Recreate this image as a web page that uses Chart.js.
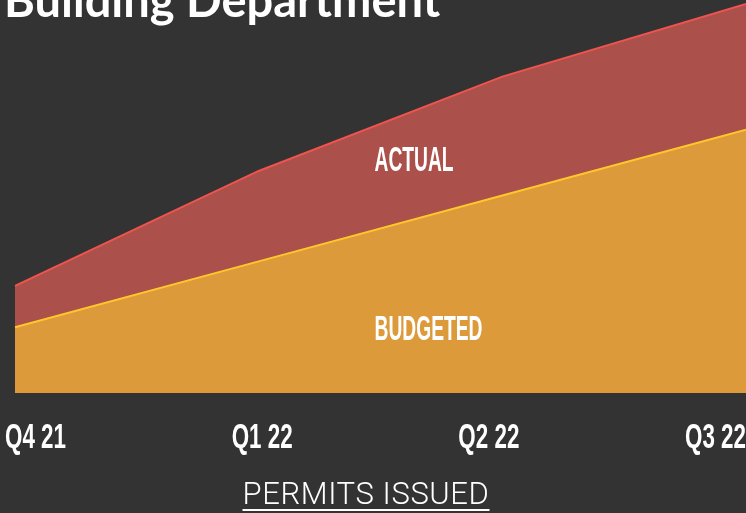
<!DOCTYPE html>
<html>
<head>
<meta charset="utf-8">
<style>
  html, body { margin: 0; padding: 0; background: #333333; }
  canvas { display: block; }
</style>
<script src="https://cdn.jsdelivr.net/npm/chart.js@4.4.1/dist/chart.umd.min.js"></script>
</head>
<body>
<canvas id="permitsChart" width="746" height="513"></canvas>
<script>
const quarters = ['Q4 21', 'Q1 22', 'Q2 22', 'Q3 22'];
const budgeted = [67, 134, 201, 268];
const actual = [109, 226, 322, 396];
const yMax = 400;

function narrowText(ctx, text, x, y, align, sx) {
  ctx.save();
  ctx.translate(x, y);
  ctx.scale(sx, 1);
  ctx.textAlign = align;
  ctx.textBaseline = 'alphabetic';
  ctx.fillText(text, 0, 0);
  ctx.restore();
}

const labelsPlugin = {
  id: 'labelsPlugin',
  afterDraw(chart) {
    const ctx = chart.ctx;
    const xScale = chart.scales.x;
    ctx.save();
    ctx.fillStyle = '#ffffff';

    // title, cut off at the top like the original
    ctx.font = 'bold 47px Lato';
    ctx.textAlign = 'left';
    ctx.textBaseline = 'alphabetic';
    ctx.fillText('Building Department', 4, 17);

    // series names inside the areas
    ctx.font = 'bold 35px "Liberation Sans"';
    const mid = (xScale.getPixelForValue(1) + xScale.getPixelForValue(2)) / 2 - 6;
    narrowText(ctx, 'ACTUAL', mid, 171, 'left', 0.55);
    narrowText(ctx, 'BUDGETED', mid, 340, 'left', 0.55);

    // quarter labels: outer ones flush with the plot edges,
    // inner ones spread evenly between the outer label centres
    const sx = 0.64;
    const n = quarters.length;
    const firstW = ctx.measureText(quarters[0]).width * sx;
    const lastW = ctx.measureText(quarters[n - 1]).width * sx;
    const firstLeft = xScale.getPixelForTick(0) - 10;
    const lastRight = xScale.getPixelForTick(n - 1);
    const c0 = firstLeft + firstW / 2;
    const c1 = lastRight - lastW / 2;
    quarters.forEach(function (q, i) {
      narrowText(ctx, q, c0 + (c1 - c0) * i / (n - 1), 448, 'center', sx);
    });

    // axis caption with underline
    ctx.font = '300 31px Roboto';
    ctx.letterSpacing = '0.6px';
    ctx.textAlign = 'center';
    const cx = 366;
    ctx.fillText('PERMITS ISSUED', cx, 504);
    const w = ctx.measureText('PERMITS ISSUED').width;
    ctx.fillRect(cx - w / 2, 509, w, 2);
    ctx.restore();
  }
};

const permitsChart = document.getElementById('permitsChart');

new Chart(permitsChart, {
  type: 'line',
  data: {
    labels: quarters,
    datasets: [
      {
        label: 'Budgeted',
        data: budgeted,
        borderColor: '#ffc72c',
        backgroundColor: '#dc9a3a',
        borderWidth: 2,
        fill: 'origin',
        pointRadius: 0,
        tension: 0
      },
      {
        label: 'Actual',
        data: actual,
        borderColor: '#f0544e',
        backgroundColor: '#ab504a',
        borderWidth: 2,
        fill: 'origin',
        pointRadius: 0,
        tension: 0
      }
    ]
  },
  options: {
    responsive: false,
    animation: false,
    devicePixelRatio: 1,
    layout: {
      padding: { left: 15, right: 0, top: 0, bottom: 120 }
    },
    plugins: {
      legend: { display: false },
      tooltip: { enabled: false }
    },
    scales: {
      x: { display: false, offset: false },
      y: { display: false, min: 0, max: yMax }
    }
  },
  plugins: [labelsPlugin]
});
</script>
</body>
</html>
